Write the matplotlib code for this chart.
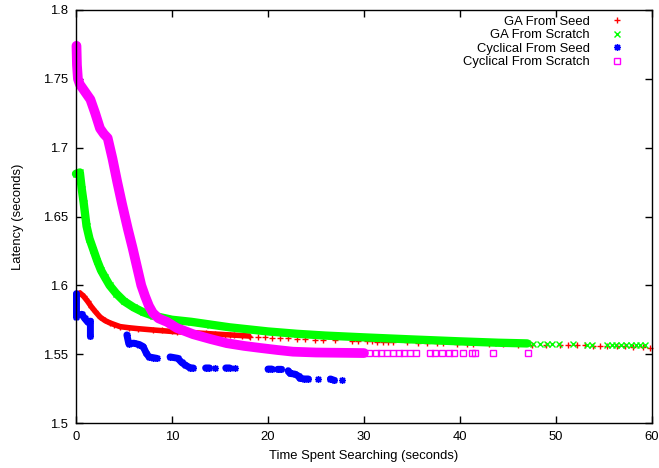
import numpy as np
import matplotlib
matplotlib.use("Agg")
import matplotlib.pyplot as plt

plt.rcParams['font.family'] = ['Liberation Sans', 'DejaVu Sans']
plt.rcParams['font.size'] = 9.4
plt.rcParams['lines.solid_capstyle'] = 'round'
plt.rcParams['lines.solid_joinstyle'] = 'round'

nan = np.nan

# GA From Seed: dense early run, then the scattered tail
ga_seed_x = [0.4, 0.8, 1.2, 1.6, 2.0, 2.5, 3.0, 3.5, 4.0, 4.6, 5.5, 6.5, 8.0, 10, 12, 14, 16, 18]
ga_seed_y = [1.5945, 1.592, 1.5885, 1.5845, 1.581, 1.577, 1.5745, 1.5728, 1.5715, 1.570,
             1.5692, 1.5685, 1.5676, 1.5665, 1.5657, 1.5648, 1.564, 1.5632]
ga_seed_tail_x = [9.0, 10.5, 11.5, 12.5, 13.5, 14.5, 15.5, 16.5, 17.3, 18.1, 19.0, 19.7, 20.4,
                  21.3, 22.1, 23.0, 23.9, 24.9, 25.7, 27.0, 28.75, 29.4, 30.3, 30.8, 31.35,
                  32.0, 32.5, 33.0, 34.5, 35.6, 36.6, 37.6, 38.2, 39.7, 40.7, 41.4, 43.0,
                  44.5, 46.0, 47.5, 49.0, 50.4, 51.25, 52.2, 53.0, 53.9, 54.6, 55.3, 56.4,
                  57.2, 58.0, 59.1, 59.8]
ga_seed_tail_y = [1.5672, 1.5663, 1.566, 1.5655, 1.5652, 1.5646, 1.5642, 1.5638, 1.5634,
                  1.5628, 1.5625, 1.5622, 1.562, 1.5617, 1.5614, 1.561, 1.5607, 1.5605,
                  1.5603, 1.560, 1.5598, 1.5596, 1.5594, 1.5593, 1.5592, 1.559, 1.5589,
                  1.5588, 1.5586, 1.5584, 1.5582, 1.558, 1.5579, 1.5577, 1.5576, 1.5575,
                  1.5573, 1.5571, 1.557, 1.5569, 1.5568, 1.5566, 1.5565, 1.5564, 1.5563,
                  1.5562, 1.5561, 1.556, 1.5558, 1.5556, 1.5554, 1.555, 1.5545]

# GA From Scratch
ga_scratch_x = [0.0, 0.4, 0.6, 0.8, 1.1, 1.4, 1.8, 2.2, 2.6, 3.0, 3.5, 4.2, 5.0, 6.0, 7.0,
                8.0, 9.0, 10, 12, 14, 16, 18, 20, 23, 26, 30, 35, 40, 44, 47]
ga_scratch_y = [1.681, 1.682, 1.670, 1.660, 1.643, 1.634, 1.626, 1.618, 1.611, 1.606, 1.600,
                1.594, 1.5885, 1.584, 1.5805, 1.578, 1.5765, 1.575, 1.5735, 1.5715, 1.5695,
                1.568, 1.5665, 1.5648, 1.5635, 1.5622, 1.5607, 1.5593, 1.5583, 1.5578]
ga_scratch_tail_x = [47.6, 48.3, 49.1, 49.6, 50.3, 51.8, 53.2, 53.7, 55.3, 55.8, 56.3, 56.8,
                     57.3, 57.8, 58.3, 58.8, 59.3]
ga_scratch_tail_y = [1.5575, 1.5574, 1.5573, 1.5572, 1.5572, 1.5571, 1.557, 1.557, 1.5569,
                     1.5568, 1.5568, 1.5567, 1.5567, 1.5566, 1.5566, 1.5565, 1.5565]

# Cyclical From Seed: step-like clusters (nan separates them)
cyc_seed_x = [0.05, 0.05, nan,
              0.6, 0.9, 1.2, 1.5, 1.5, nan,
              5.3, 5.5, 6.0, 6.6, 7.0, 7.3, 7.6, 8.0, 8.4, nan,
              9.8, 10.6, 11.0, 11.4, 11.9, 12.2, nan,
              13.5, 13.9, nan, 14.5, nan, 15.6, 16.0, nan, 16.6, nan,
              20.0, 20.4, nan, 21.0, 21.4, nan,
              22.1, 22.3, 22.8, 23.2, 23.3, 23.8, 24.2, nan,
              25.2, nan, 26.5, 26.9, nan, 27.7]
cyc_seed_y = [1.594, 1.577, nan,
              1.579, 1.576, 1.5735, 1.574, 1.563, nan,
              1.564, 1.5575, 1.558, 1.557, 1.5555, 1.551, 1.548, 1.5475, 1.547, nan,
              1.548, 1.547, 1.544, 1.542, 1.540, 1.540, nan,
              1.540, 1.540, nan, 1.540, nan, 1.540, 1.540, nan, 1.540, nan,
              1.5392, 1.5392, nan, 1.539, 1.539, nan,
              1.538, 1.536, 1.5355, 1.534, 1.5325, 1.532, 1.532, nan,
              1.532, nan, 1.532, 1.531, nan, 1.531]

# Cyclical From Scratch
cyc_scratch_x = [0.05, 0.1, 0.2, 0.4, 0.8, 1.5, 2.0, 2.5, 2.9, 3.3, 3.8, 4.3, 4.8, 5.4, 5.9,
                 6.4, 6.8, 7.2, 7.6, 8.0, 8.6, 9.5, 10.5, 12.2, 14, 15.7, 17.5, 19.2, 21,
                 22.6, 25, 27.5, 30]
cyc_scratch_y = [1.774, 1.760, 1.750, 1.746, 1.742, 1.735, 1.725, 1.714, 1.710, 1.707, 1.692,
                 1.675, 1.659, 1.641, 1.627, 1.612, 1.600, 1.592, 1.585, 1.580, 1.576,
                 1.5734, 1.569, 1.5645, 1.561, 1.558, 1.556, 1.5545, 1.553, 1.5518, 1.5512,
                 1.551, 1.5508]
cyc_scratch_tail_x = [30.5, 31.2, 31.8, 32.4, 33.0, 33.6, 34.2, 34.8, 35.4, 36.9, 37.4, 38.1,
                      38.9, 39.4, 40.3, 41.2, 41.6, 43.4, 47.1]
cyc_scratch_tail_y = [1.5508] * len(cyc_scratch_tail_x)

labels = ["GA From Seed", "GA From Scratch", "Cyclical From Seed", "Cyclical From Scratch"]
colors = ["#ff0000", "#00ff00", "#0000ff", "#ff00ff"]
asterisk = (8, 2, 0)

fig = plt.figure(figsize=(6.59, 4.68), dpi=100)
ax = fig.add_axes([76 / 659, 1 - 423 / 468, 576 / 659, 413 / 468])

ax.plot(ga_seed_x, ga_seed_y, color=colors[0], lw=4, marker='+', ms=5, mew=1, clip_on=False)
ax.plot(ga_seed_tail_x, ga_seed_tail_y, ls='none', color=colors[0], marker='+', ms=5, mew=1,
        clip_on=False)

ax.plot(ga_scratch_x, ga_scratch_y, color=colors[1], lw=6, marker='x', ms=4, mew=1, clip_on=False)
ax.plot(ga_scratch_tail_x, ga_scratch_tail_y, ls='none', color=colors[1], marker='x', ms=4,
        mew=1, clip_on=False)

ax.plot(cyc_seed_x, cyc_seed_y, color=colors[2], lw=5, marker=asterisk, ms=5, mew=1, clip_on=False)

ax.plot(cyc_scratch_x, cyc_scratch_y, color=colors[3], lw=7, clip_on=False)
ax.plot(cyc_scratch_tail_x, cyc_scratch_tail_y, ls='none', color=colors[3], marker='s', ms=4.5,
        mfc='none', mew=1, clip_on=False)

ax.set_xlim(0, 60)
ax.set_ylim(1.5, 1.8)
ax.set_xticks([0, 10, 20, 30, 40, 50, 60])
ax.set_yticks([1.5, 1.55, 1.6, 1.65, 1.7, 1.75, 1.8])
ax.set_yticklabels(["1.5", "1.55", "1.6", "1.65", "1.7", "1.75", "1.8"])
ax.tick_params(direction='in', length=5, width=1, top=True, right=True, labelsize=9.4)
ax.tick_params(axis='y', pad=6)
ax.tick_params(axis='x', pad=6)
for s in ax.spines.values():
    s.set_linewidth(1)
ax.set_xlabel("Time Spent Searching (seconds)", labelpad=5)
ax.set_ylabel("Latency (seconds)", labelpad=13)

handles = [
    plt.Line2D([], [], ls='none', color=colors[0], marker='+', ms=5, mew=1),
    plt.Line2D([], [], ls='none', color=colors[1], marker='x', ms=4, mew=1),
    plt.Line2D([], [], ls='none', color=colors[2], marker=asterisk, ms=5, mew=1),
    plt.Line2D([], [], ls='none', color=colors[3], marker='s', ms=4.5, mfc='none', mew=1),
]
ax.legend(handles, labels, loc='upper right', bbox_to_anchor=(0.95, 0.986), frameon=False,
          markerfirst=False, handlelength=1, handletextpad=1.55, labelspacing=0.1,
          borderaxespad=0, borderpad=0, fontsize=9.4)

fig.savefig("out.png", dpi=100)
